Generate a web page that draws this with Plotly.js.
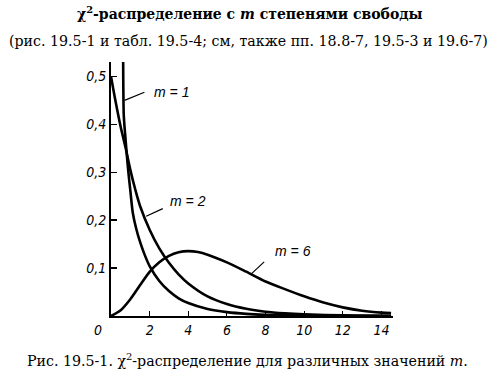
<!DOCTYPE html>
<html>
<head>
<meta charset="utf-8">
<script src="https://cdn.plot.ly/plotly-3.0.1.min.js"></script>
<style>html,body{margin:0;padding:0;background:#fff;}#chart{width:495px;height:370px;}</style>
</head>
<body>
<div id="chart"></div>
<script>
// m = 1
var m1X = [0.63, 0.635, 0.645, 0.66, 0.7, 0.75, 0.8, 0.9, 1.0, 1.13, 1.3, 1.5, 1.75, 2, 2.5, 3, 3.5, 4, 5, 6, 7, 8, 10, 12, 14.5];
var m1Y = [0.53, 0.49, 0.45, 0.42, 0.395, 0.37, 0.345, 0.30, 0.262, 0.215, 0.183, 0.155, 0.127, 0.104, 0.073, 0.052, 0.037, 0.027, 0.0146, 0.0081, 0.0045, 0.0026, 0.0009, 0.0003, 0.0001];
// m = 2
var m2X = [0, 0.25, 0.5, 0.75, 1, 1.25, 1.5, 2, 2.5, 3, 3.5, 4, 5, 6, 7, 8, 9, 10, 12, 14.5];
var m2Y = [0.5, 0.445, 0.395, 0.352, 0.305, 0.265, 0.23, 0.18, 0.141, 0.111, 0.087, 0.068, 0.041, 0.025, 0.015, 0.009, 0.0056, 0.0034, 0.0012, 0.0004];
// m = 6
var m6X = [0, 0.5, 1, 1.5, 2, 2.5, 3, 3.5, 4, 4.5, 5, 6, 7, 8, 9, 10, 11, 12, 13, 14, 14.5];
var m6Y = [0, 0.012, 0.035, 0.064, 0.092, 0.112, 0.1255, 0.133, 0.1353, 0.1334, 0.128, 0.112, 0.0925, 0.072, 0.056, 0.041, 0.028, 0.018, 0.011, 0.007, 0.006];

var xTicks = [2, 4, 6, 8, 10, 12, 14];
var yTicks = [0.1, 0.2, 0.3, 0.4, 0.5];

var titleText = "<b>χ<sup>2</sup>-распределение с <i>m</i> степенями свободы</b>";
var subText = "(рис. 19.5-1 и табл. 19.5-4; см, также пп. 18.8-7, 19.5-3 и 19.6-7)";
var captionText = "Рис. 19.5-1. χ<sup>2</sup>-распределение для различных значений <i>m</i>.";

var lineStyle = {color: '#000', width: 2.6, shape: 'spline', smoothing: 0.8};
var traces = [
  {x: m1X, y: m1Y, mode: 'lines', line: lineStyle, hoverinfo: 'skip'},
  {x: m2X, y: m2Y, mode: 'lines', line: lineStyle, hoverinfo: 'skip'},
  {x: m6X, y: m6Y, mode: 'lines', line: lineStyle, hoverinfo: 'skip'}
];

var tickFont = {family: '"Liberation Sans Narrow", "DejaVu Sans Condensed", Arial, sans-serif', size: 14, color: '#000', style: 'italic'};
var serif = '"DejaVu Serif", "Liberation Serif", serif';
var labelFont = {family: '"Liberation Sans Narrow", Arial, sans-serif', size: 14, color: '#000', style: 'italic'};

var layout = {
  width: 495, height: 370,
  margin: {l: 111, r: 102, t: 62, b: 54},
  paper_bgcolor: '#fff', plot_bgcolor: '#fff',
  showlegend: false,
  separators: ', ',
  xaxis: {
    range: [0, 14.6], showgrid: false, zeroline: false,
    showline: true, linecolor: '#000', linewidth: 2,
    tickmode: 'array', tickvals: xTicks, ticktext: xTicks.map(String),
    ticks: 'inside', ticklen: 5, tickwidth: 1.2, tickcolor: '#000',
    tickfont: tickFont
  },
  yaxis: {
    range: [0, 0.53], showgrid: false, zeroline: false,
    showline: true, linecolor: '#000', linewidth: 2,
    tickmode: 'array', tickvals: yTicks, ticktext: yTicks.map(function(v){return v.toFixed(1).replace('.', ',');}),
    ticks: 'inside', ticklen: 6, tickwidth: 1.4, tickcolor: '#000',
    tickfont: tickFont
  },
  shapes: [
    {type: 'line', xref: 'x', yref: 'y', x0: 0.70, y0: 0.45, x1: 1.73, y1: 0.467, line: {color: '#000', width: 1.2}},
    {type: 'line', xref: 'x', yref: 'y', x0: 1.82, y0: 0.208, x1: 2.68, y1: 0.224, line: {color: '#000', width: 1.2}},
    {type: 'line', xref: 'x', yref: 'y', x0: 7.25, y0: 0.0875, x1: 7.93, y1: 0.113, line: {color: '#000', width: 1.2}}
  ],
  annotations: [
    {xref: 'x', yref: 'y', x: 2.1, y: 0.467, text: '<i>m</i> = 1', showarrow: false, xanchor: 'left', yanchor: 'middle', font: labelFont},
    {xref: 'x', yref: 'y', x: 2.95, y: 0.24, text: '<i>m</i> = 2', showarrow: false, xanchor: 'left', yanchor: 'middle', font: labelFont},
    {xref: 'x', yref: 'y', x: 8.4, y: 0.135, text: '<i>m</i> = 6', showarrow: false, xanchor: 'left', yanchor: 'middle', font: labelFont},
    {xref: 'paper', yref: 'paper', x: -0.045, y: 0, yshift: -14, text: '0', showarrow: false, xanchor: 'center', yanchor: 'middle', font: tickFont},
    {xref: 'paper', yref: 'paper', x: -0.128, y: 1, yshift: 49, text: titleText, showarrow: false, xanchor: 'left', yanchor: 'middle', font: {family: serif, size: 14, color: '#000'}},
    {xref: 'paper', yref: 'paper', x: -0.369, y: 1, yshift: 21, text: subText, showarrow: false, xanchor: 'left', yanchor: 'middle', font: {family: serif, size: 14.2, color: '#000'}},
    {xref: 'paper', yref: 'paper', x: -0.305, y: 0, yshift: -44, text: captionText, showarrow: false, xanchor: 'left', yanchor: 'middle', font: {family: serif, size: 14.2, color: '#000'}}
  ]
};

Plotly.newPlot('chart', traces, layout, {staticPlot: true, displayModeBar: false});
</script>
</body>
</html>
